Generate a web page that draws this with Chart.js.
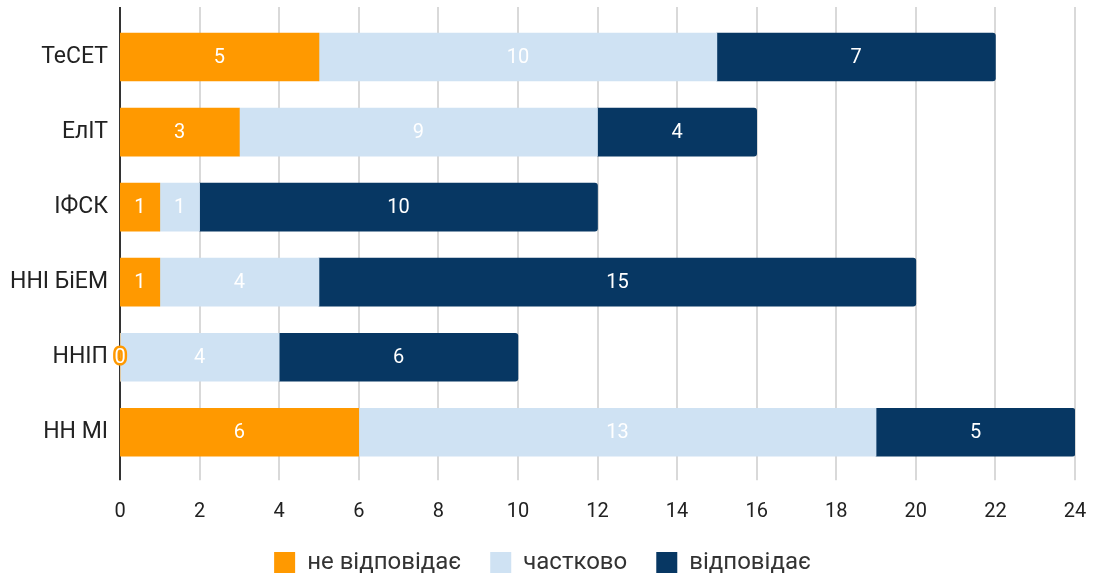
<!DOCTYPE html>
<html><head><meta charset="utf-8">
<script src="https://cdn.jsdelivr.net/npm/chart.js@4/dist/chart.umd.min.js"></script>
<style>html,body{margin:0;padding:0;background:#fff;}#wrap{width:1098px;height:574px;}</style>
</head><body><div id="wrap"><canvas id="c" width="1098" height="574"></canvas></div>
<script>
const categories = ['ТеСЕТ', 'ЕлІТ', 'ІФСК', 'ННІ БіЕМ', 'ННІП', 'НН МІ'];
const seriesNames = ['не відповідає', 'частково', 'відповідає'];
const notMatch = [5, 3, 1, 1, 0, 6];
const partial = [10, 9, 1, 4, 4, 13];
const matches = [7, 4, 10, 15, 6, 5];
const xTicks = [0, 2, 4, 6, 8, 10, 12, 14, 16, 18, 20, 22, 24];
const colors = ['#ff9900', '#cfe2f3', '#073763'];
const FONT = 'Roboto';

const gridPlugin = {
  id: 'grid',
  beforeDatasetsDraw(chart) {
    const {ctx, chartArea} = chart;
    const x = chart.scales.x;
    const top = chartArea.top - 12.5, bottom = chartArea.bottom + 10.5;
    ctx.save();
    xTicks.forEach(v => {
      const px = Math.round(x.getPixelForValue(v));
      ctx.beginPath();
      ctx.strokeStyle = v === 0 ? '#333333' : '#cccccc';
      ctx.lineWidth = v === 0 ? 2 : 1.5;
      ctx.moveTo(px, top); ctx.lineTo(px, bottom); ctx.stroke();
    });
    ctx.restore();
  }
};

const labelPlugin = {
  id: 'vlabels',
  afterDatasetsDraw(chart) {
    const {ctx} = chart;
    ctx.save();
    ctx.font = '20px ' + FONT;
    ctx.textAlign = 'center';
    ctx.textBaseline = 'middle';
    chart.data.datasets.forEach((ds, di) => {
      const meta = chart.getDatasetMeta(di);
      meta.data.forEach((bar, i) => {
        const v = ds.data[i];
        const cx = (bar.x + bar.base) / 2;
        if (v === 0) {
          ctx.lineWidth = 5; ctx.lineJoin = 'round';
          ctx.strokeStyle = ds.backgroundColor;
          ctx.strokeText(String(v), cx, bar.y + 1);
        }
        ctx.fillStyle = '#ffffff';
        ctx.fillText(String(v), cx, bar.y + 1);
      });
    });
    ctx.restore();
  }
};

new Chart(document.getElementById('c'), {
  type: 'bar',
  data: {
    labels: categories,
    datasets: [
      {label: seriesNames[0], data: notMatch, backgroundColor: colors[0], barThickness: 48},
      {label: seriesNames[1], data: partial, backgroundColor: colors[1], barThickness: 48},
      {label: seriesNames[2], data: matches, backgroundColor: colors[2], barThickness: 48, borderRadius: 3, borderSkipped: 'start'}
    ]
  },
  options: {
    indexAxis: 'y',
    responsive: false,
    animation: false,
    layout: {padding: {top: 19.5, right: 13, left: 0, bottom: -10.6}},
    plugins: {
      legend: {
        position: 'bottom',
        labels: {boxWidth: 21, boxHeight: 21, padding: 29, color: '#333333', font: {family: FONT, size: 24}}
      },
      tooltip: {enabled: false}
    },
    scales: {
      x: {
        stacked: true, min: 0, max: 24,
        grid: {display: false, drawTicks: false},
        border: {display: false},
        afterBuildTicks(s) { s.ticks = xTicks.map(v => ({value: v})); },
        afterFit(s) { s.height = 51.8; s.paddingLeft = 0; s.paddingRight = 23; },
        ticks: {padding: 30, color: '#222222', font: {family: FONT, size: 20}}
      },
      y: {
        stacked: true,
        grid: {display: false, drawTicks: false},
        border: {display: false},
        afterFit(s) { s.width = 120; s.paddingTop = 0; s.paddingBottom = 0; },
        ticks: {padding: 12, color: '#222222', font: {family: FONT, size: 23}}
      }
    }
  },
  plugins: [gridPlugin, labelPlugin]
});
</script></body></html>
